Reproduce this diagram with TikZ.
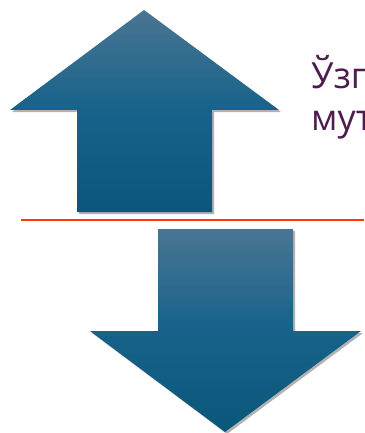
\documentclass[tikz,border=0pt]{standalone}
\usepackage{fontspec}
\setmainfont{Open Sans}
\usetikzlibrary{positioning,shadows}
\definecolor{arrTop}{HTML}{4A7592}
\definecolor{arrMid}{HTML}{16628A}
\definecolor{arrBot}{HTML}{0B577A}
\definecolor{lineCol}{HTML}{FF3A0A}
\definecolor{txtCol}{HTML}{4E1C4E}
\begin{document}
\begin{tikzpicture}[x=1pt,y=-1pt]
  \tikzset{bigarr/.style={top color=arrTop,bottom color=arrBot,middle color=arrMid,draw=none,
        drop shadow={shadow xshift=2pt,shadow yshift=-2pt,opacity=0.3,fill=black}},
    sep/.style={draw=lineCol,line width=2.5pt},
    lbl/.style={anchor=base west,align=left,text=txtCol,inner sep=0pt,
        font=\fontsize{36}{42}\selectfont}}
  \clip (0,0) rectangle (364,433);
  \fill[white] (0,0) rectangle (364,433);
  % up arrow
  \path[bigarr] (144,10) -- (279,110) -- (212,110) -- (212,212) -- (77,212) -- (77,110)
        -- (10,110) -- cycle;
  % separator
  \coordinate (sepL) at (21,220);
  \coordinate (sepR) at (364,220);
  \draw[sep] (sepL) -- (sepR);
  % down arrow
  \path[bigarr] (158,229) -- (293,229) -- (293,331) -- (361,331) -- (225,432) -- (90,331)
        -- (158,331) -- cycle;
  \node[lbl] (word) at (311,130) {Ўзг\\мут};
\end{tikzpicture}
\end{document}
